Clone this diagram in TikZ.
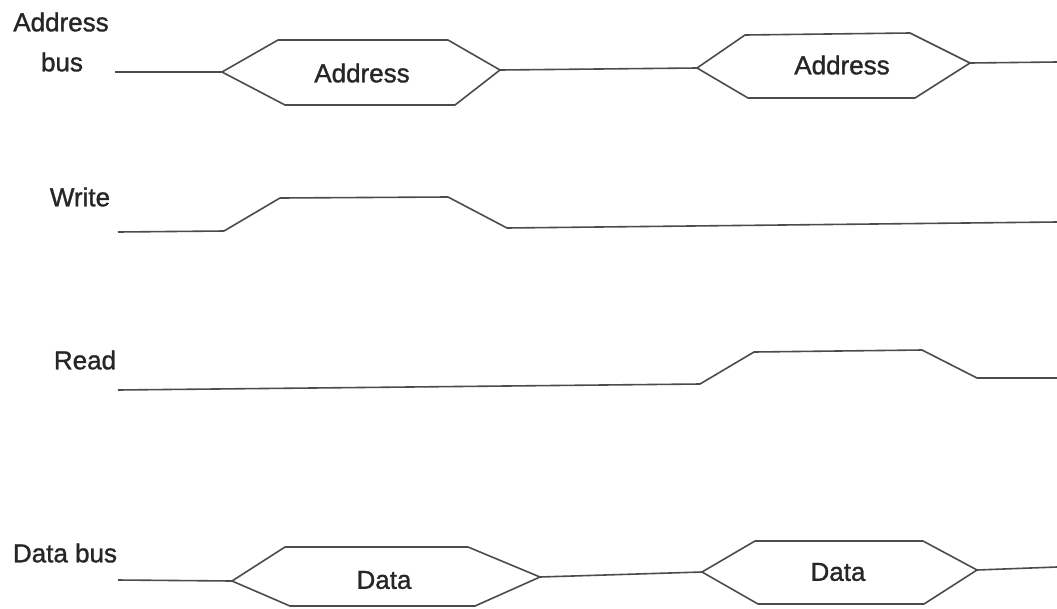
\documentclass[tikz,border=0pt]{standalone}
\usepackage{fontspec}
\setmainfont[FakeBold=1.2]{Liberation Sans}
\begin{document}
\begin{tikzpicture}[x=1pt,y=-1pt,
  sig/.style={draw=black!70, line width=1.6pt, line join=round},
  lbl/.style={text=black!85, font=\fontsize{26}{28}\selectfont, inner sep=0pt},
  txt/.style={text=black!85, font=\fontsize{26}{28}\selectfont, inner sep=0pt}]
\useasboundingbox (0,0) rectangle (1057,608);
\fill[white] (0,0) rectangle (1057,608);
% labels
\node[lbl] (lab1) at (61,22) {Address};
\node[lbl] (lab1b) at (62,62) {bus};
\node[lbl] (lab2) at (80,197) {Write};
\node[lbl] (lab3) at (85,360) {Read};
\node[lbl] (lab4) at (65,553) {Data bus};
% address bus
\coordinate (a0) at (115,72);
\coordinate (a1) at (222,72);
\coordinate (a2) at (278,40);
\coordinate (a3) at (448,40);
\coordinate (a4) at (500,70);
\coordinate (a5) at (455,105);
\coordinate (a6) at (285,105);
\coordinate (b1) at (697,68);
\coordinate (b2) at (745,35);
\coordinate (b3) at (910,33);
\coordinate (b4) at (970,63);
\coordinate (b5) at (915,98);
\coordinate (b6) at (748,98);
\coordinate (b7) at (1057,62);
\draw[sig] (a0) -- (a1);
\draw[sig] (a1) -- (a2) -- (a3) -- (a4) -- (a5) -- (a6) -- cycle;
\draw[sig] (a4) -- (b1);
\draw[sig] (b1) -- (b2) -- (b3) -- (b4) -- (b5) -- (b6) -- cycle;
\draw[sig] (b4) -- (b7);
\node[txt] (addr1) at (362,73) {Address};
\node[txt] (addr2) at (842,65) {Address};
% write
\coordinate (w0) at (118,232);
\coordinate (w1) at (224,231);
\coordinate (w2) at (280,198);
\coordinate (w3) at (448,197);
\coordinate (w4) at (507,228);
\coordinate (w5) at (1057,222);
\draw[sig] (w0) -- (w1) -- (w2) -- (w3) -- (w4) -- (w5);
% read
\coordinate (r0) at (118,390);
\coordinate (r1) at (700,384);
\coordinate (r2) at (754,352);
\coordinate (r3) at (922,350);
\coordinate (r4) at (977,378);
\coordinate (r5) at (1057,378);
\draw[sig] (r0) -- (r1) -- (r2) -- (r3) -- (r4) -- (r5);
% data bus
\coordinate (d0) at (118,580);
\coordinate (d1) at (232,581);
\coordinate (d2) at (285,547);
\coordinate (d3) at (468,547);
\coordinate (d4) at (540,577);
\coordinate (d5) at (475,606);
\coordinate (d6) at (290,606);
\coordinate (e1) at (702,572);
\coordinate (e2) at (755,541);
\coordinate (e3) at (923,541);
\coordinate (e4) at (977,570);
\coordinate (e5) at (924,604);
\coordinate (e6) at (758,604);
\coordinate (e7) at (1057,567);
\draw[sig] (d0) -- (d1);
\draw[sig] (d1) -- (d2) -- (d3) -- (d4) -- (d5) -- (d6) -- cycle;
\draw[sig] (d4) -- (e1);
\draw[sig] (e1) -- (e2) -- (e3) -- (e4) -- (e5) -- (e6) -- cycle;
\draw[sig] (e4) -- (e7);
\node[txt] (data1) at (384,580) {Data};
\node[txt] (data2) at (838,572) {Data};
\end{tikzpicture}
\end{document}
